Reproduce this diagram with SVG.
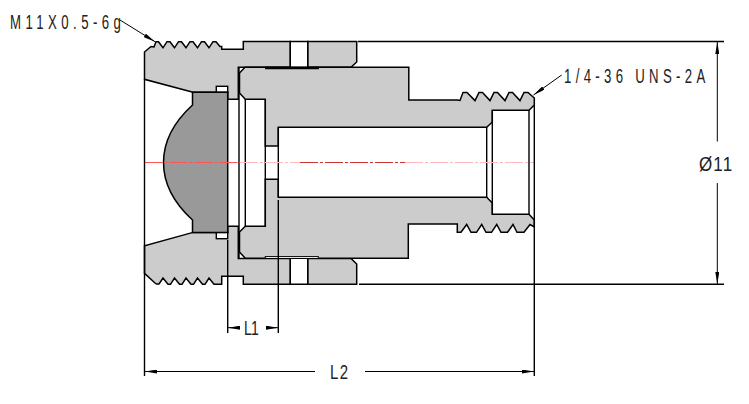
<svg xmlns="http://www.w3.org/2000/svg" width="749" height="404" viewBox="0 0 749 404">
<style>
.g{fill:#ccc;stroke:#000;stroke-width:1.5;stroke-linejoin:miter}
.l{fill:none;stroke:#000;stroke-width:1.4}
.t{fill:none;stroke:#000;stroke-width:1}
.w{fill:#fff;stroke:#000;stroke-width:1.4}
text{font-family:"Liberation Sans",Arial,sans-serif;fill:#222;font-size:20px}
.c{fill:none;stroke-width:1;stroke-dasharray:18 2 3 2}
</style>
<defs>
<marker id="a" viewBox="0 0 12 4" refX="12" refY="2" markerWidth="12" markerHeight="4" markerUnits="userSpaceOnUse" orient="auto-start-reverse"><path d="M0 0L12 2L0 4Z" fill="#000"/></marker>
</defs>
<rect width="749" height="404" fill="#fff"/>
<g id="housing">
<path class="g" d="M144.5 79.3V52L151 46.5L154 47L156 41.7H158.5L163 47.8L167 41.7H170L174.5 47.8L178.5 41.7H181.5L186 47.8L190 41.7H193L197.5 47.8L201.5 41.7H204.5L209 47.8L213 41.7H216L220 46.5H221.7V49.3H243.3V41.5H290.3V67.3H238.3V99.3H227.7V92.3H193Z"/>
<path class="g" d="M307.7 41.5H356.7V62L351 67.3H307.7Z"/>
<path class="g" d="M144.5 245.7V273.3L155 283L156.5 284H159L163 278L168 284.3H170.5L174.5 278L179.5 284.3H182L186 278L191 284.3H193.5L197.5 278L202.5 284.3H205L209 278L214 284.3H221.7V276.3H243.3V284.3H290.3V258.4H238.3V226.3H227.7V232.4H193Z"/>
<path class="g" d="M307.7 258.4H351L356.7 264V284.3H307.7Z"/>
<rect class="w" x="216.3" y="86.3" width="11.4" height="6"/>
<rect class="w" x="216.3" y="232.4" width="11.4" height="6.3"/>
<path class="w" d="M290.3 67.3V41.5H307.7V67.3M290.3 258.4V284.3H307.7V258.4"/>
</g>
<g id="lens">
<path d="M192.5 92.3H227.7V232.4H192.5V220C175 204 163.5 186 163.5 162.5C163.5 139 175 121 192.5 105Z" fill="#999" stroke="#000" stroke-width="1.5"/>
</g>
<g id="plug">
<path class="g" d="M239.5 73L245 67.3H408.8V100H457.3L460 100.5L463 92.5H467L475 100.6L479 92.5H482.5L490 100.6L494 92.5H497.5L505 100.6L509 92.5H512.5L520 100.6L524 92.5H528L534.3 98V105L529 110.3H492.3V122L486.7 127.3H278.3V146H265.3V99.3H245.3L239.5 93Z"/>
<path class="g" d="M239.5 252L245.3 258.3H408.3V224H457.3V232.3H461L466.7 224.5L471 232.3H476.5L481.7 224.5L486 232.3H491.5L496.7 224.5L501 232.3H507.5L513 224.5L517 232.3H524L530 224.5L534.3 227V220L529 214.3H492.3V203L486.7 197.3H278.3V179.3H265.3V226.3H245.3L239.5 232Z"/>
<path class="l" d="M239 67.3V258" stroke-width="2.2"/>
<path class="l" d="M245.3 99.3V226.3M265.3 99.3V226.3M278.3 127.3V197.3M486.7 127.3V197.3M492.3 110.3V214.3M529 110.3V214.3"/>
<path d="M265 68H319" stroke="#000" stroke-width="2.4"/>
<rect x="265.3" y="256.6" width="53" height="1.9" fill="#fff" stroke="#000" stroke-width="1"/>
</g>
<g id="centerline">
<path class="c" stroke="#f55" d="M144.5 162.5H240"/>
<path class="c" stroke="#fbb" d="M240 162.5H300"/>
<path class="c" stroke="#c33" stroke-width=".8" d="M300 162.5H405"/>
<path class="c" stroke="#fbb" d="M405 162.5H534"/>
</g>
<g id="dimensions">
<path class="l" d="M144.5 79.3V376M534.3 105V376M227.7 240V333M278.3 200V333M358 41.5H724M359 284.3H724"/>
<path class="t" d="M228 327.7H238" marker-start="url(#a)"/>
<path class="t" d="M268 327.7H278" marker-end="url(#a)"/>
<path class="t" d="M145 371.5H315" marker-start="url(#a)"/>
<path class="t" d="M365 371.5H534" marker-end="url(#a)"/>
<path class="t" d="M717.3 141.5V42" marker-end="url(#a)"/>
<path class="t" d="M717.3 183V284" marker-end="url(#a)"/>
<path class="t" d="M120 20L155 41.7" marker-end="url(#a)"/>
<path class="t" d="M561.7 75L533.5 95" marker-end="url(#a)"/>
<text transform="translate(10 28.5) scale(.66 1)" textLength="168" lengthAdjust="spacing">M11X0.5-6g</text>
<text transform="translate(564 83) scale(.66 1)" textLength="214" lengthAdjust="spacing">1/4-36 UNS-2A</text>
<text transform="translate(699 171) scale(.85 1)" textLength="39" lengthAdjust="spacing">Ø11</text>
<text transform="translate(244 335) scale(.7 1)" textLength="21" lengthAdjust="spacing">L1</text>
<text transform="translate(330 379) scale(.75 1)" textLength="24" lengthAdjust="spacing">L2</text>
</g>
</svg>
